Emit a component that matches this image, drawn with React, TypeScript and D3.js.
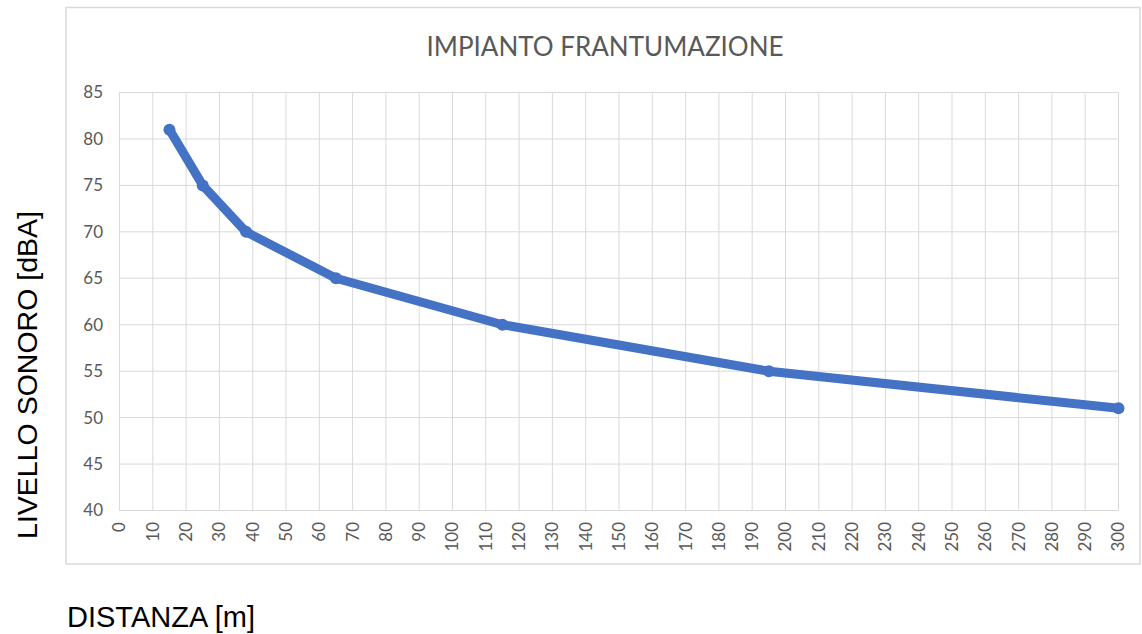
import React, { useRef, useEffect } from 'react';
import * as d3 from 'd3';

const distances = [15, 25, 38, 65, 115, 195, 300];
const levels = [81, 75, 70, 65, 60, 55, 51];
const xTicks = d3.range(0, 301, 10);
const yTicks = [40, 45, 50, 55, 60, 65, 70, 75, 80, 85];
const titleText = 'IMPIANTO FRANTUMAZIONE';
const yTitle = 'LIVELLO SONORO [dBA]';
const xTitle = 'DISTANZA [m]';

const W = 1142;
const H = 634;
const plot = { left: 119.5, right: 1118.5, top: 92.5, bottom: 510.5 };
const grey = '#595959';
const gridColor = '#d9d9d9';
const lineColor = '#4472C4';

const App = () => {
  const ref = useRef<SVGGElement>(null);

  useEffect(() => {
    document.body.style.margin = '0';
    if (!ref.current) return;
    const g = d3.select(ref.current);
    g.selectAll('*').remove();

    const x = d3.scaleLinear([0, 300], [plot.left, plot.right]);
    const y = d3.scaleLinear([40, 85], [plot.bottom, plot.top]);

    // gridlines
    g.append('g').selectAll('line').data(yTicks).join('line')
      .attr('x1', plot.left).attr('x2', plot.right)
      .attr('y1', d => y(d)).attr('y2', d => y(d))
      .attr('stroke', gridColor).attr('stroke-width', 1);
    g.append('g').selectAll('line').data(xTicks).join('line')
      .attr('x1', d => x(d)).attr('x2', d => x(d))
      .attr('y1', plot.top).attr('y2', plot.bottom)
      .attr('stroke', gridColor).attr('stroke-width', 1);

    // y tick labels
    g.append('g').selectAll('text').data(yTicks).join('text')
      .attr('x', 103).attr('y', d => y(d)).attr('dy', '0.35em')
      .attr('text-anchor', 'end')
      .attr('font-family', 'Lato').attr('font-size', 17).attr('fill', grey)
      .text(d => d);

    // x tick labels, rotated
    g.append('g').selectAll('text').data(xTicks).join('text')
      .attr('transform', d => `translate(${x(d)},522) rotate(-90)`)
      .attr('dy', '0.35em')
      .attr('text-anchor', 'end')
      .attr('font-family', 'Lato').attr('font-size', 17).attr('fill', grey)
      .text(d => d);

    const pts = distances.map((d, i) => [x(d), y(levels[i])] as [number, number]);

    g.append('path')
      .attr('d', d3.line()(pts))
      .attr('fill', 'none')
      .attr('stroke', lineColor)
      .attr('stroke-width', 9)
      .attr('stroke-linejoin', 'round')
      .attr('stroke-linecap', 'round');

    g.append('g').selectAll('circle').data(pts).join('circle')
      .attr('cx', d => d[0]).attr('cy', d => d[1]).attr('r', 6)
      .attr('fill', lineColor);
  }, []);

  return (
    <svg width={W} height={H} style={{ display: 'block', background: '#fff' }}>
      <rect x={66} y={7.5} width={1074} height={556.5} fill="#fff" stroke={gridColor} strokeWidth={1.5} />
      <text x={605} y={56} textAnchor="middle" fontFamily="Lato" fontSize={26} fill={grey}>
        {titleText}
      </text>
      <g ref={ref} />
      <text transform="translate(37,375) rotate(-90)" textAnchor="middle"
        fontFamily="Liberation Sans, Arial" fontSize={28.5} fill="#000">
        {yTitle}
      </text>
      <text x={67} y={627} fontFamily="Liberation Sans, Arial" fontSize={29} fill="#000">
        {xTitle}
      </text>
    </svg>
  );
};

export default App;
